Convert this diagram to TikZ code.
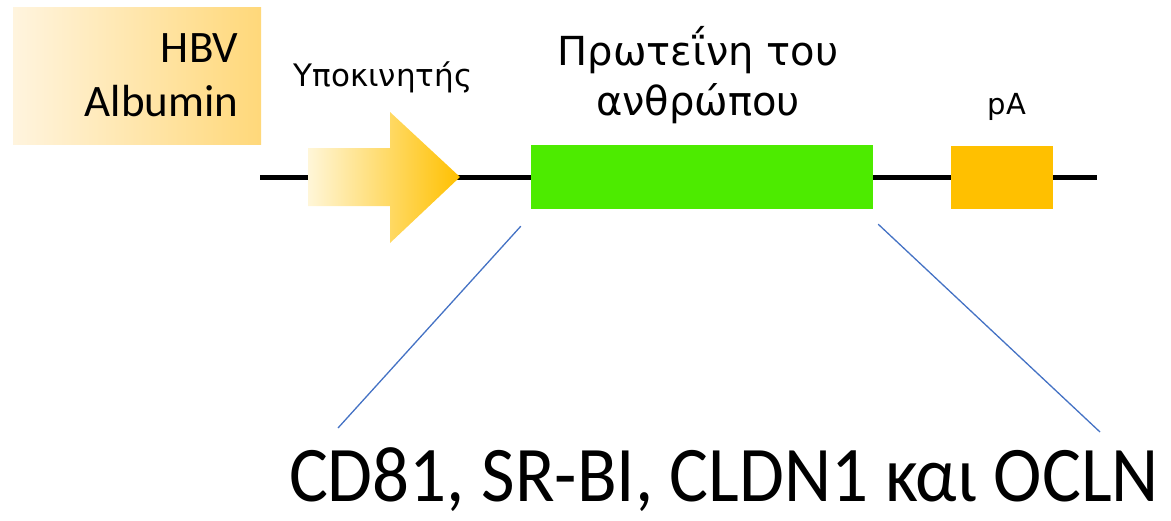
\documentclass[tikz,border=0pt]{standalone}
\usepackage{fontspec}
\usepackage{graphicx}
\setmainfont{Carlito}
\newfontfamily\labfont{DejaVu Sans}
\usetikzlibrary{positioning}
\definecolor{hbvlight}{HTML}{FFF4DE}
\definecolor{hbvdark}{HTML}{FFD87A}
\definecolor{promlight}{HTML}{FFF6D8}
\definecolor{promdark}{HTML}{FFC000}
\definecolor{protgreen}{HTML}{4DEB00}
\definecolor{pagold}{HTML}{FFC000}
\definecolor{zoomblue}{HTML}{4472C4}

\begin{document}
\begin{tikzpicture}[x=1pt,y=-1pt,
	block/.style={inner sep=0pt,minimum height=64pt},
	lab/.style={font=\labfont\fontsize{40}{50}\selectfont,align=center},
	smalllab/.style={font=\labfont\fontsize{31}{38}\selectfont,anchor=base},
	zoomline/.style={zoomblue,line width=1.3pt}]
		\useasboundingbox (0,0) rectangle (1171,520);
		% Kasten HBV / Albumin
		\shade[left color=hbvlight,right color=hbvdark] (13,7) rectangle (261,144);
		\node[anchor=east,align=right,font=\fontsize{45}{54}\selectfont] (hbv) at (242,75) {HBV\\Albumin};
		% DNA-Strang
		\coordinate (dnaL) at (260,177);
		\coordinate (dnaR) at (1097,177);
		\draw[line width=5pt] (dnaL) -- (dnaR);
		% Promotor-Pfeil
		\shade[left color=promlight,right color=promdark]
			(308,148) -- (390,148) -- (390,112) -- (460,177) -- (390,243) -- (390,206) -- (308,206) -- cycle;
		\node[smalllab] (promlab) at (383,86) {Υποκινητής};
		% Protein
		\node[block,fill=protgreen,minimum width=342pt] (prot) at (702,177) {};
		\node[lab] (protlab) at (698,75) {Πρωτεΐνη του\\ανθρώπου};
		% pA
		\node[block,fill=pagold,minimum width=102pt,minimum height=63pt] (pa) at (1002,177) {};
		\node[smalllab,font=\labfont\fontsize{29}{35}\selectfont] (palab) at (1007,114) {pA};
		% Rezeptoren
		\node[anchor=base,inner sep=0pt,font=\fontsize{73}{80}\selectfont] (genes) at (724,501)
			{\scalebox{1}[1.08]{CD81, SR-BI, CLDN1 και OCLN}};
		\coordinate (zl) at (338,428);
		\coordinate (zr) at (1100,432);
		\draw[zoomline] ([xshift=-10pt,yshift=-17pt]prot.south west) -- (zl);
		\draw[zoomline] ([xshift=5pt,yshift=-15pt]prot.south east) -- (zr);
	\end{tikzpicture}
\end{document}
